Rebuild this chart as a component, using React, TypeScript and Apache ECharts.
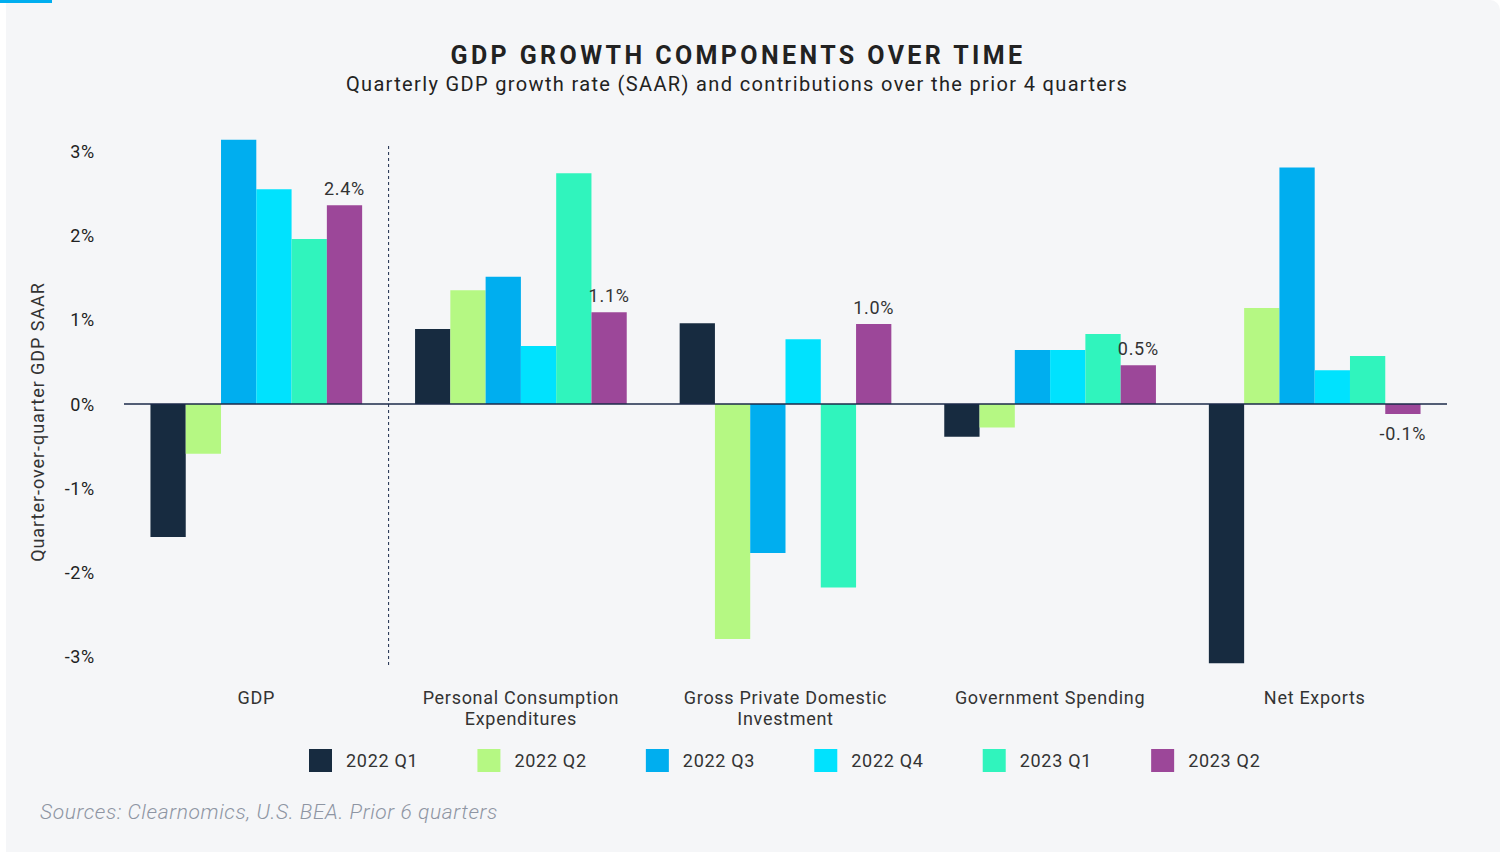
import React, { useEffect, useRef } from "react";
import * as echarts from "echarts";

const categories = [
  "GDP",
  "Personal Consumption\nExpenditures",
  "Gross Private Domestic\nInvestment",
  "Government Spending",
  "Net Exports",
];
const seriesNames = ["2022 Q1", "2022 Q2", "2022 Q3", "2022 Q4", "2023 Q1", "2023 Q2"];
const q1_2022 = [-1.58, 0.89, 0.96, -0.39, -3.08];
const q2_2022 = [-0.59, 1.35, -2.79, -0.28, 1.14];
const q3_2022 = [3.14, 1.51, -1.77, 0.64, 2.81];
const q4_2022 = [2.55, 0.69, 0.77, 0.64, 0.4];
const q1_2023 = [1.96, 2.74, -2.18, 0.83, 0.57];
const q2_2023 = [2.36, 1.09, 0.95, 0.46, -0.12];
const yTicks = [-3, -2, -1, 0, 1, 2, 3];
const yMin = -3.1;
const yMax = 3.1;
// divider between the GDP group and its components (category boundary index)
const dividerAt = 1;
const colors = ["#172b40", "#b5f883", "#00aeef", "#00e2fe", "#30f4bd", "#9c4799"];

const FONT = "Roboto, 'Noto Sans', sans-serif";

export default function App() {
  const ref = useRef<HTMLDivElement>(null);
  useEffect(() => {
    if (!ref.current) return;
    const chart = echarts.init(ref.current, null, { renderer: "svg" });
    const all = [q1_2022, q2_2022, q3_2022, q4_2022, q1_2023, q2_2023];
    const series: any[] = all.map((vals, i) => {
      const s: any = {
        name: seriesNames[i],
        type: "bar",
        clip: false,
        barGap: "0%",
        barCategoryGap: "20%",
        itemStyle: { color: colors[i] },
        data:
          i === 5
            ? vals.map((v) => (v < 0 ? { value: v, label: { position: "bottom", distance: 10 } } : v))
            : vals,
      };
      if (i === 5) {
        s.label = {
          show: true,
          position: "top",
          distance: 8,
          color: "#333",
          fontSize: 18,
          fontFamily: FONT,
          formatter: (p: any) => (Math.round(p.value * 10) / 10).toFixed(1) + "%",
        };
      }
      if (i === 0) {
        s.markLine = {
          silent: true,
          symbol: "none",
          label: { show: false },
          lineStyle: { color: "#1b2a4a", width: 1.5, type: "solid" },
          data: [{ yAxis: 0 }],
        };
      }
      return s;
    });
    series.push({
      type: "line",
      xAxisIndex: 1,
      symbol: "none",
      silent: true,
      lineStyle: { color: "#1b2a4a", type: [3, 3], width: 1 },
      data: [
        [dividerAt, yMin],
        [dividerAt, yMax],
      ],
    });
    chart.setOption({
      animation: false,
      backgroundColor: "#ffffff",
      textStyle: { fontFamily: FONT },
      grid: { left: 124, right: 59, top: 143, bottom: 189, containLabel: false },
      legend: {
        left: 309,
        top: 749,
        padding: 0,
        icon: "rect",
        itemWidth: 23,
        itemHeight: 23,
        itemGap: 64,
        textStyle: { fontSize: 18, color: "#333", fontFamily: FONT, padding: [0, 0, 0, 9] },
        data: seriesNames,
      },
      xAxis: [
        {
          type: "category",
          data: categories,
          axisLine: { show: false, onZero: false },
          axisTick: { show: false },
          splitLine: { show: false },
          axisLabel: {
            interval: 0,
            margin: 22,
            fontSize: 18,
            lineHeight: 21,
            color: "#333",
            fontFamily: FONT,
          },
        },
        {
          type: "value",
          min: 0,
          max: categories.length,
          show: false,
        },
      ],
      yAxis: {
        type: "value",
        min: yMin,
        max: yMax,
        axisLine: { show: false },
        axisTick: { show: false },
        splitLine: { show: false },
        axisLabel: {
          customValues: yTicks,
          margin: 29,
          fontSize: 18,
          color: "#222",
          fontFamily: FONT,
          formatter: (v: number) => v + "%",
        },
      },
      graphic: [
        { type: "rect", z: -10, shape: { x: 6, y: 0, width: 1494, height: 852, r: [0, 10, 0, 0] }, style: { fill: "#f5f6f8" } },
        { type: "rect", z: -9, shape: { x: 0, y: 0, width: 52, height: 3 }, style: { fill: "#00aeef" } },
        {
          type: "text",
          x: 738,
          y: 55,
          style: {
            text: "GDP GROWTH COMPONENTS OVER TIME",
            font: "bold 25px Roboto, TitleX, sans-serif",
            fill: "#222",
            textAlign: "center",
            textVerticalAlign: "middle",
          },
        },
        {
          type: "text",
          x: 737,
          y: 84,
          style: {
            text: "Quarterly GDP growth rate (SAAR) and contributions over the prior 4 quarters",
            font: "20px Roboto, SubX, sans-serif",
            fill: "#222",
            textAlign: "center",
            textVerticalAlign: "middle",
          },
        },
        {
          type: "text",
          x: 37,
          y: 422,
          rotation: Math.PI / 2,
          style: {
            text: "Quarter-over-quarter GDP SAAR",
            font: "18px Roboto, NameX, sans-serif",
            fill: "#333",
            textAlign: "center",
            textVerticalAlign: "middle",
          },
        },
        {
          type: "text",
          x: 40,
          y: 812,
          style: {
            text: "Sources: Clearnomics, U.S. BEA. Prior 6 quarters",
            font: "italic 300 21px Roboto, FootX, sans-serif",
            fill: "#8e95a3",
            textAlign: "left",
            textVerticalAlign: "middle",
          },
        },
      ],
      series,
    });
    return () => chart.dispose();
  }, []);
  return (
    <>
      <style>{`.gdpchart text { letter-spacing: 0.7px; }
.gdpchart text[style*="TitleX"] { letter-spacing: 3.4px; }
.gdpchart text[style*="SubX"] { letter-spacing: 1.35px; }
.gdpchart text[style*="NameX"] { letter-spacing: 0.95px; }
.gdpchart text[style*="FootX"] { letter-spacing: 0.6px; }`}</style>
      <div
        ref={ref}
        className="gdpchart"
        style={{ position: "fixed", left: 0, top: 0, width: 1506, height: 854 }}
      />
    </>
  );
}
